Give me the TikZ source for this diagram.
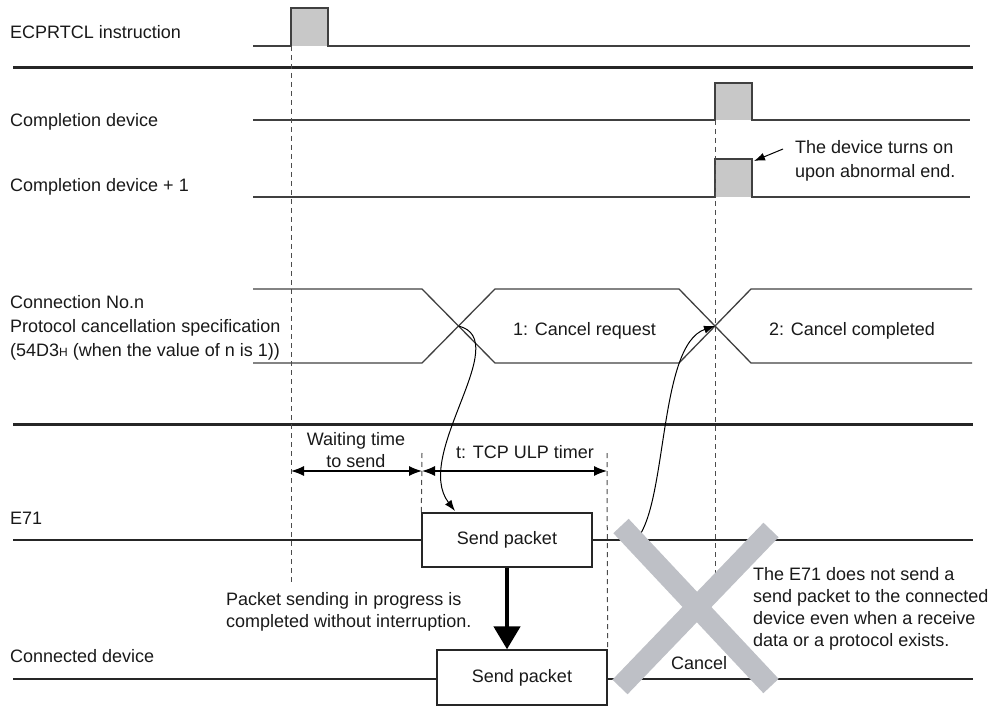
\documentclass[tikz,border=0pt]{standalone}
\usepackage{fontspec}
\setmainfont{Liberation Sans}
\usetikzlibrary{arrows.meta}

\definecolor{pulsegray}{RGB}{200,200,200}
\definecolor{crossgray}{RGB}{190,192,198}

\tikzset{
  sig/.style={line width=1.3pt,draw=black!75},
  sep/.style={line width=3pt,draw=black!85},
  bus/.style={line width=2.6pt,draw=black!85},
  guide/.style={line width=1pt,draw=black!70,dash pattern=on 5pt off 4pt},
  lbl/.style={anchor=base west,inner sep=0pt,align=left,text=black!90,
    font=\fontsize{18}{24}\selectfont},
  mid/.style={lbl,anchor=base,align=center},
  pkt/.style={draw=black!85,line width=1.3pt,fill=white,inner sep=0pt,
    minimum width=170pt,minimum height=54pt,text=black!90,
    font=\fontsize{18}{24}\selectfont},
  dim/.style={line width=1.3pt,{Latex[length=13pt,width=10pt]}-{Latex[length=13pt,width=10pt]}},
  curv/.style={line width=1pt,-{Latex[length=11pt,width=8pt]}},
  thick arrow/.style={line width=4.5pt,-{Triangle[length=23pt,width=26pt]}},
  cross/.style={line width=21pt,draw=crossgray},
}

\begin{document}
\begin{tikzpicture}[x=1pt,y=-1pt]
\useasboundingbox (0,0) rectangle (997,706);

%%%%%%%%%%%%%%%%%%%%%%%%
% ECPRTCL instruction
%%%%%%%%%%%%%%%%%%%%%%%%

\node[lbl](ecp) at (10,39) {ECPRTCL instruction};
\draw[sig,fill=pulsegray] (253,46) -- (291,46) -- (291,8) -- (328,8) -- (328,46) -- (970,46);

\draw[sep] (13,68) -- (973,68);

%%%%%%%%%%%%%%%%%%%%%%%%
% completion devices
%%%%%%%%%%%%%%%%%%%%%%%%

\node[lbl](cd) at (10,127) {Completion device};
\draw[sig,fill=pulsegray] (253,120) -- (715,120) -- (715,83) -- (752,83) -- (752,120) -- (970,120);

\node[lbl](cd1) at (10,192) {Completion device + 1};
\draw[sig,fill=pulsegray] (253,197) -- (715,197) -- (715,159) -- (752,159) -- (752,197) -- (970,197);

\node[lbl](turnon) at (795,178) {The device turns on\\upon abnormal end.};
\coordinate(ann) at (783,149);
\coordinate(cd1top) at (754,161);
\draw[curv] (ann) -- (cd1top);

%%%%%%%%%%%%%%%%%%%%%%%%
% cancellation specification
%%%%%%%%%%%%%%%%%%%%%%%%

\node[lbl](conn) at (10,356) {Connection No.n\\Protocol cancellation specification\\(54D3{\fontsize{12}{12}\selectfont H} (when the value of n is 1))};

\draw[sig] (253,289) -- (422,289) -- (495,363) -- (679,363) -- (751,289) -- (972,289);
\draw[sig] (253,363) -- (422,363) -- (495,289) -- (679,289) -- (751,363) -- (972,363);
\coordinate(cr1) at (458.5,326);
\coordinate(cr2) at (715,326);

\node[lbl](req) at (513,335) {1: Cancel request};
\node[lbl](done) at (769,335) {2: Cancel completed};

\draw[sep] (13,424) -- (973,424);

%%%%%%%%%%%%%%%%%%%%%%%%
% E71 / connected device
%%%%%%%%%%%%%%%%%%%%%%%%

\node[lbl](e71) at (10,524) {E71};
\draw[bus] (13,540) -- (973,540);

\node[lbl](con) at (10,662) {Connected device};
\draw[bus] (13,679) -- (973,679);

\node[pkt](pkt1) at (507,540) {Send packet};
\node[pkt,minimum height=55pt](pkt2) at (522,677.5) {Send packet};

\draw[guide] (291,46) -- (291,585);
\draw[guide] (715,120) -- (715,573);
\draw[guide] (422,453) -- (pkt1.north west);
\draw[guide] (607,453) -- (pkt2.north east);

\coordinate(w1) at (291,471);
\coordinate(w2) at (422,471);
\coordinate(w3) at (607,471);
\draw[dim] (w1) -- (w2);
\draw[dim] (w2) -- (w3);
\node[mid,font=\fontsize{18}{22}\selectfont](wait) at (356,467) {Waiting time\\to send};
\node[mid](ulp) at (525,458) {t: TCP ULP timer};

\draw[thick arrow] (pkt1.south) -- (pkt1.south |- pkt2.north);
\node[lbl,font=\fontsize{18}{22}\selectfont](inprog) at (226,627) {Packet sending in progress is\\completed without interruption.};

\coordinate(tip1) at (455,511);
\draw[curv] (cr1) .. controls (515,340) and (412,455) .. (tip1);

\coordinate(cstart) at (636,540);
\draw[curv] (cstart) .. controls (668,505) and (658,345) .. (cr2);

%%%%%%%%%%%%%%%%%%%%%%%%
% cancel
%%%%%%%%%%%%%%%%%%%%%%%%

\coordinate(xa) at (621,526);
\coordinate(xb) at (771,686);
\coordinate(xc) at (771,530);
\coordinate(xd) at (620,687);
\draw[cross] (xa) -- (xb);
\draw[cross] (xc) -- (xd);

\node[lbl](cancel) at (671,669) {Cancel};
\node[lbl,font=\fontsize{18}{22}\selectfont](nosend) at (753,646) {The E71 does not send a\\send packet to the connected\\device even when a receive\\data or a protocol exists.};

\end{tikzpicture}
\end{document}
